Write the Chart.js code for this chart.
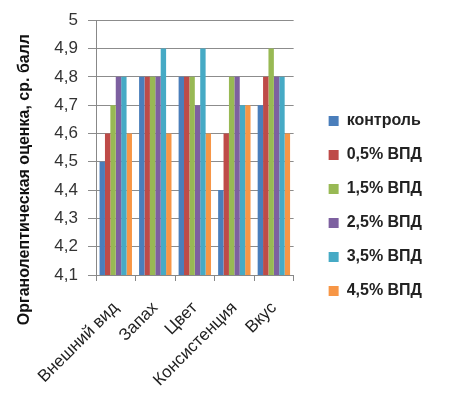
<!DOCTYPE html>
<html>
<head>
<meta charset="utf-8">
<script src="https://cdn.jsdelivr.net/npm/chart.js@4"></script>
<style>
	html, body { margin: 0; padding: 0; background: #fff; }
	#wrap { width: 452px; height: 402px; }
</style>
</head>
<body>
<div id="wrap"><canvas id="chart"></canvas></div>
<script>
/* Data */
var categories = ["Внешний вид", "Запах", "Цвет", "Консистенция", "Вкус"];
var seriesNames = ["контроль", "0,5% ВПД", "1,5% ВПД", "2,5% ВПД", "3,5% ВПД", "4,5% ВПД"];
var control = [4.5, 4.8, 4.8, 4.4, 4.7];
var vpd05 = [4.6, 4.8, 4.8, 4.6, 4.8];
var vpd15 = [4.7, 4.8, 4.8, 4.8, 4.9];
var vpd25 = [4.8, 4.8, 4.7, 4.8, 4.8];
var vpd35 = [4.8, 4.9, 4.9, 4.7, 4.8];
var vpd45 = [4.6, 4.6, 4.6, 4.7, 4.6];
var yMin = 4.1;
var yMax = 5;
var yStep = 0.1;
var yTitle = "Органолептическая оценка, ср. балл";

var colors = ["#4a7ebb", "#be4b48", "#98b954", "#7d60a0", "#46aac5", "#f79646"];
var allSeries = [control, vpd05, vpd15, vpd25, vpd35, vpd45];
var fontFamily = "Liberation Sans";

var datasets = allSeries.map(function (vals, i) {
	return {
		label: seriesNames[i],
		data: vals,
		backgroundColor: colors[i],
		borderWidth: 0,
		barPercentage: 1,
		categoryPercentage: 0.82,
		yAxisID: "y",
	};
});

/* y axis title, drawn a bit lower than the axis centre like in the original */
var yTitlePlugin = {
	id: "yTitle",
	afterDraw: function (chart) {
		var c = chart.ctx;
		var area = chart.chartArea;
		c.save();
		c.translate(25, (area.top + area.bottom) / 2 + 32);
		c.rotate(-Math.PI / 2);
		c.font = "bold 16px " + fontFamily;
		c.fillStyle = "#111";
		c.textAlign = "center";
		c.textBaseline = "middle";
		c.fillText(yTitle, 0, 0);
		c.restore();
	},
};

var ctx = document.getElementById("chart");
var chart = new Chart(ctx, {
	type: "bar",
	data: {
		labels: categories,
		datasets: datasets,
	},
	plugins: [yTitlePlugin],
	options: {
		responsive: true,
		maintainAspectRatio: false,
		animation: false,
		layout: {
			padding: { left: 50, right: 20, top: 10, bottom: 0 },
		},
		plugins: {
			tooltip: { enabled: false },
			legend: {
				position: "right",
				maxWidth: 220,
				labels: {
					boxWidth: 10,
					boxHeight: 10,
					padding: 18,
					color: "#222",
					font: { family: fontFamily, size: 16, weight: "bold" },
				},
			},
		},
		scales: {
			x: {
				grid: {
					display: true,
					drawOnChartArea: false,
					drawTicks: true,
					tickLength: 6,
					color: "#888",
					offset: true,
				},
				border: { color: "#888" },
				ticks: {
					maxRotation: 45,
					minRotation: 45,
					color: "#222",
					padding: 17,
					font: { family: fontFamily, size: 17 },
				},
				afterFit: function (s) {
					s.paddingLeft = 0;
					s.paddingRight = 0;
					s.height = 127;
				},
			},
			y: {
				min: yMin,
				max: yMax,
				grid: {
					color: "#8c8c8c",
					tickLength: 8,
				},
				border: { color: "#888" },
				ticks: {
					stepSize: yStep,
					color: "#333",
					padding: 10,
					font: { family: fontFamily, size: 17 },
					callback: function (v) {
						var r = Math.round(v * 10) / 10;
						return r === 5 ? "5" : r.toFixed(1).replace(".", ",");
					},
				},
				afterFit: function (s) {
					s.width = 46;
				},
			},
			/* empty axis that only keeps a gap between the plot and the legend */
			gap: {
				type: "linear",
				position: "right",
				display: true,
				grid: { display: false },
				border: { display: false },
				ticks: { display: false },
				afterFit: function (s) {
					s.width = 17;
				},
			},
		},
	},
});
</script>
</body>
</html>
